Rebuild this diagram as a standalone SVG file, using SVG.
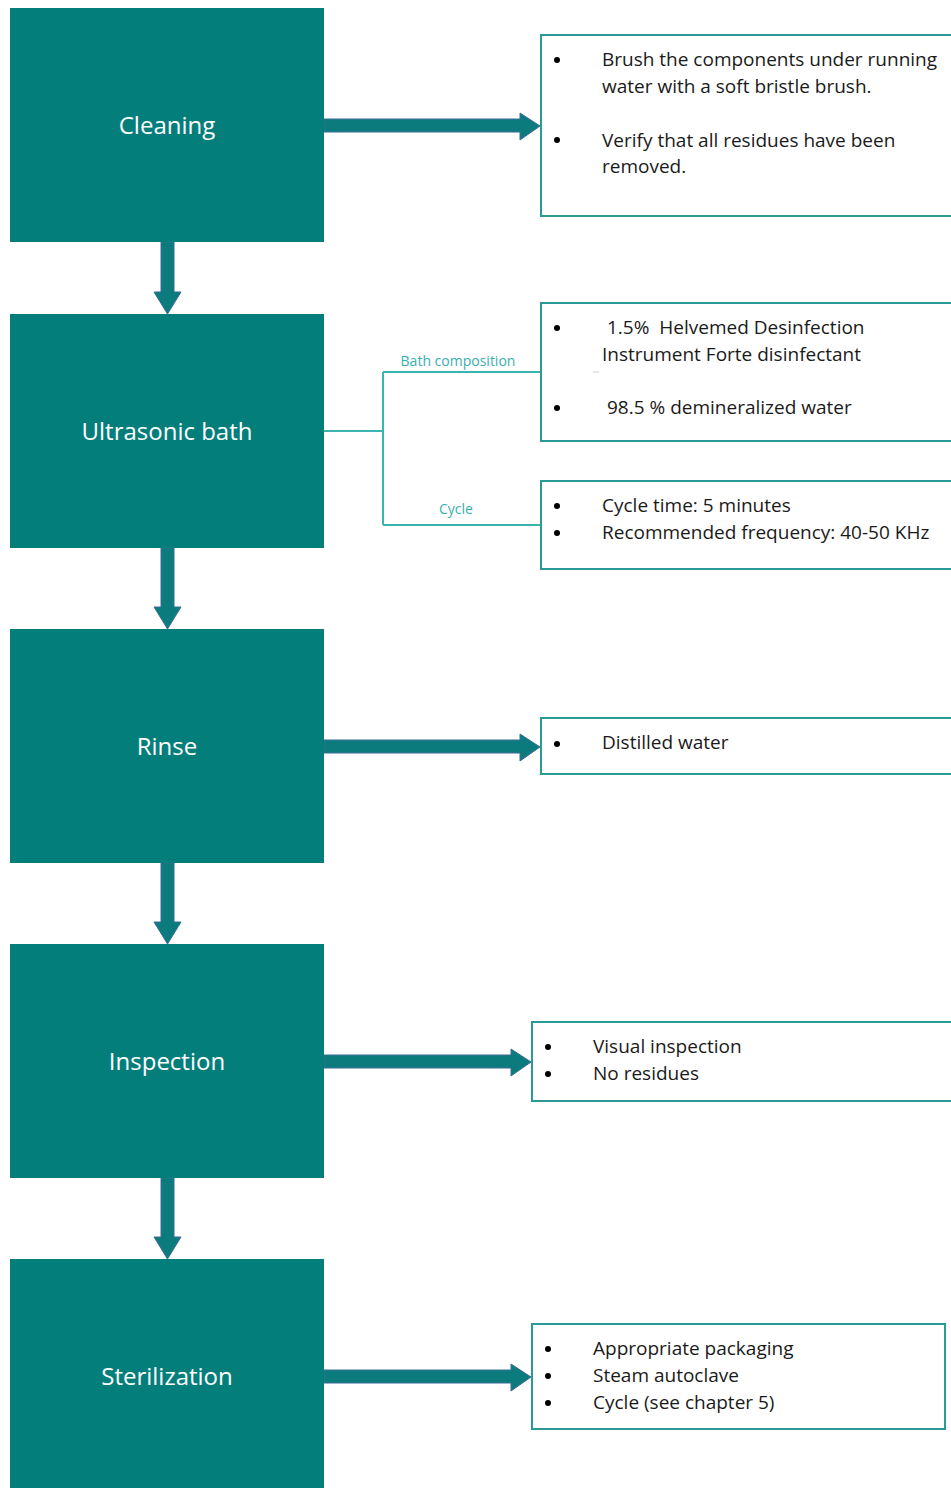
<svg xmlns="http://www.w3.org/2000/svg" width="951" height="1488" viewBox="0 0 951 1488">
<style>
.step{fill:#047e7b}
.lbl{fill:#ffffff;font-family:"Open Sans","Liberation Sans",sans-serif;font-size:24px;text-anchor:middle}
.box{fill:#ffffff;stroke:#2a9a96;stroke-width:2}
.t{fill:#1a1a1a;font-family:"Open Sans","Liberation Sans",sans-serif;font-size:19px;white-space:pre}
.b{fill:#000000}
.arr{fill:#0c7b7d;stroke:#3a6d98;stroke-width:1}
.br{fill:none;stroke:#3bb4b0;stroke-width:2}
.bl{fill:#3ab0ad;font-family:"Open Sans","Liberation Sans",sans-serif;font-size:14px;text-anchor:middle}
</style>
<rect width="951" height="1488" fill="#ffffff"/>
<g id="connectors">
<polygon class="arr" points="161,242 174,242 174,292 181,292 167.5,314 154,292 161,292"/>
<polygon class="arr" points="161,548 174,548 174,607 181,607 167.5,629 154,607 161,607"/>
<polygon class="arr" points="161,863 174,863 174,922 181,922 167.5,944 154,922 161,922"/>
<polygon class="arr" points="161,1178 174,1178 174,1237 181,1237 167.5,1259 154,1237 161,1237"/>
<polygon class="arr" points="324,119 520,119 520,113 540,126 520,140 520,132 324,132"/>
<polygon class="arr" points="324,740 520,740 520,734 540,747 520,761 520,753 324,753"/>
<polygon class="arr" points="324,1055 511,1055 511,1049 531,1062 511,1076 511,1068 324,1068"/>
<polygon class="arr" points="324,1370 511,1370 511,1364 531,1377 511,1391 511,1383 324,1383"/>
<path class="br" d="M324,431 H383 M383,372 V525 M383,372 H540 M383,525 H540"/>
<text class="bl" x="458" y="366">Bath composition</text>
<text class="bl" x="456" y="514">Cycle</text>
</g>
<g id="cleaning">
<rect class="step" x="10" y="8" width="314" height="234"/>
<text class="lbl" x="167" y="134">Cleaning</text>
</g>
<g id="ultrasonic">
<rect class="step" x="10" y="314" width="314" height="234"/>
<text class="lbl" x="167" y="440">Ultrasonic bath</text>
</g>
<g id="rinse">
<rect class="step" x="10" y="629" width="314" height="234"/>
<text class="lbl" x="167" y="755">Rinse</text>
</g>
<g id="inspection">
<rect class="step" x="10" y="944" width="314" height="234"/>
<text class="lbl" x="167" y="1070">Inspection</text>
</g>
<g id="sterilization">
<rect class="step" x="10" y="1259" width="314" height="240"/>
<text class="lbl" x="167" y="1385">Sterilization</text>
</g>
<g id="cleaning-notes">
<rect class="box" x="541" y="35" width="420" height="181"/>
<circle class="b" cx="557" cy="60" r="3"/>
<circle class="b" cx="557" cy="140" r="3"/>
<text class="t" x="602" y="66">Brush the components under running</text>
<text class="t" x="602" y="93">water with a soft bristle brush.</text>
<text class="t" x="602" y="147">Verify that all residues have been</text>
<text class="t" x="602" y="173">removed.</text>
</g>
<g id="bath-notes">
<rect class="box" x="541" y="303" width="420" height="138"/>
<circle class="b" cx="557" cy="328" r="3"/>
<circle class="b" cx="557" cy="408" r="3"/>
<text class="t" x="607" y="334">1.5%  Helvemed Desinfection</text>
<text class="t" x="602" y="361">Instrument Forte disinfectant</text>
<line x1="593" y1="372" x2="599" y2="372" stroke="#cccccc" stroke-width="1"/>
<text class="t" x="607" y="414">98.5 % demineralized water</text>
</g>
<g id="cycle-notes">
<rect class="box" x="541" y="481" width="420" height="88"/>
<circle class="b" cx="557" cy="506" r="3"/>
<circle class="b" cx="557" cy="533" r="3"/>
<text class="t" x="602" y="512">Cycle time: 5 minutes</text>
<text class="t" x="602" y="539">Recommended frequency: 40-50 KHz</text>
</g>
<g id="rinse-notes">
<rect class="box" x="541" y="718" width="420" height="56"/>
<circle class="b" cx="557" cy="744" r="3"/>
<text class="t" x="602" y="749">Distilled water</text>
</g>
<g id="inspection-notes">
<rect class="box" x="532" y="1022" width="429" height="79"/>
<circle class="b" cx="548" cy="1047" r="3"/>
<circle class="b" cx="548" cy="1074" r="3"/>
<text class="t" x="593" y="1053">Visual inspection</text>
<text class="t" x="593" y="1080">No residues</text>
</g>
<g id="sterilization-notes">
<rect class="box" x="532" y="1324" width="413" height="105"/>
<circle class="b" cx="548" cy="1349" r="3"/>
<circle class="b" cx="548" cy="1376" r="3"/>
<circle class="b" cx="548" cy="1403" r="3"/>
<text class="t" x="593" y="1355">Appropriate packaging</text>
<text class="t" x="593" y="1382">Steam autoclave</text>
<text class="t" x="593" y="1409">Cycle (see chapter 5)</text>
</g>
</svg>
